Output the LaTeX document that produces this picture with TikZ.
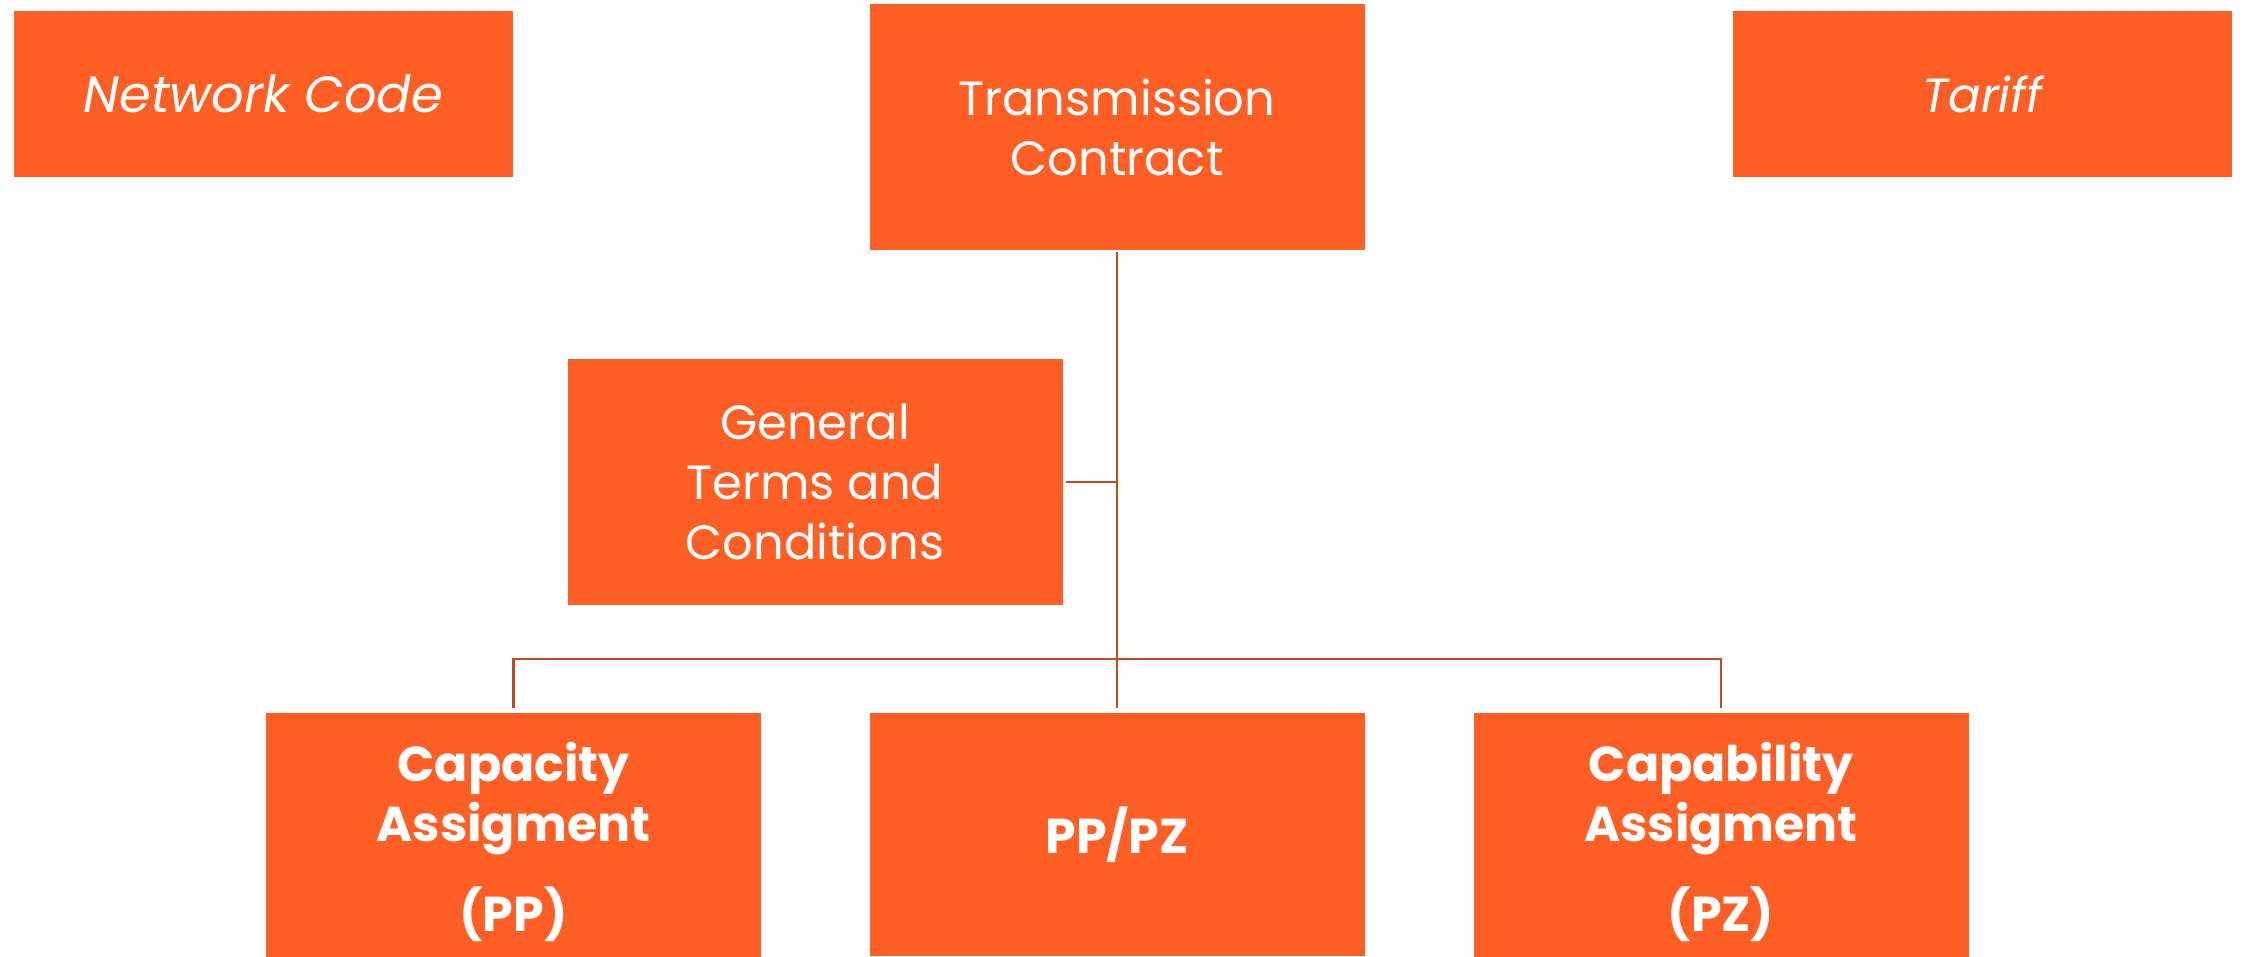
\documentclass[tikz,border=0pt]{standalone}
\usepackage{fontspec}
\setmainfont{Poppins}
\definecolor{boxorange}{HTML}{FF5F24}
\definecolor{linkred}{HTML}{C4491E}
\begin{document}
\begin{tikzpicture}[x=1pt,y=-1pt,
  box/.style={fill=boxorange, draw=none, text=white, align=center, inner sep=0pt,
    font=\fontsize{48}{60}\selectfont},
  smallbox/.style={box, minimum width=499pt, minimum height=166pt},
  bigbox/.style={box, minimum width=495pt, minimum height=246pt},
  leafbox/.style={box, minimum width=495pt, minimum height=243pt,
    font=\fontsize{49}{60}\selectfont\bfseries},
  tallleaf/.style={leafbox, minimum height=257pt},
  link/.style={draw=linkred, line width=2.5pt}]
\useasboundingbox (0,0) rectangle (2242,956);
\node[smallbox, font=\fontsize{51}{60}\selectfont] (nc) at (263.5,94) {\itshape Network Code};
\node[bigbox] (tc) at (1117,127) {Transmission\\Contract};
\node[smallbox] (tar) at (1982.5,94) {\itshape Tariff};
\node[bigbox] (gt) at (815,482) {General\\Terms and\\Conditions};
\node[tallleaf] (ca) at (513.5,841.5) {Capacity\\Assigment\\[30pt](PP)};
\node[leafbox] (pp) at (1117,834.5) {PP/PZ};
\node[tallleaf] (cb) at (1721,841.5) {Capability\\Assigment\\[30pt](PZ)};
\coordinate (bus) at (1117,659);
\draw[link, shorten <=2pt, shorten >=5pt] (tc.south) -- (pp.north);
\draw[link, shorten <=3pt] (gt.east) -- (gt.east -| tc.south);
\draw[link, shorten <=5pt, shorten >=5pt] (ca.north) -- (ca.north |- bus) -- (cb.north |- bus) -- (cb.north);
\end{tikzpicture}
\end{document}
